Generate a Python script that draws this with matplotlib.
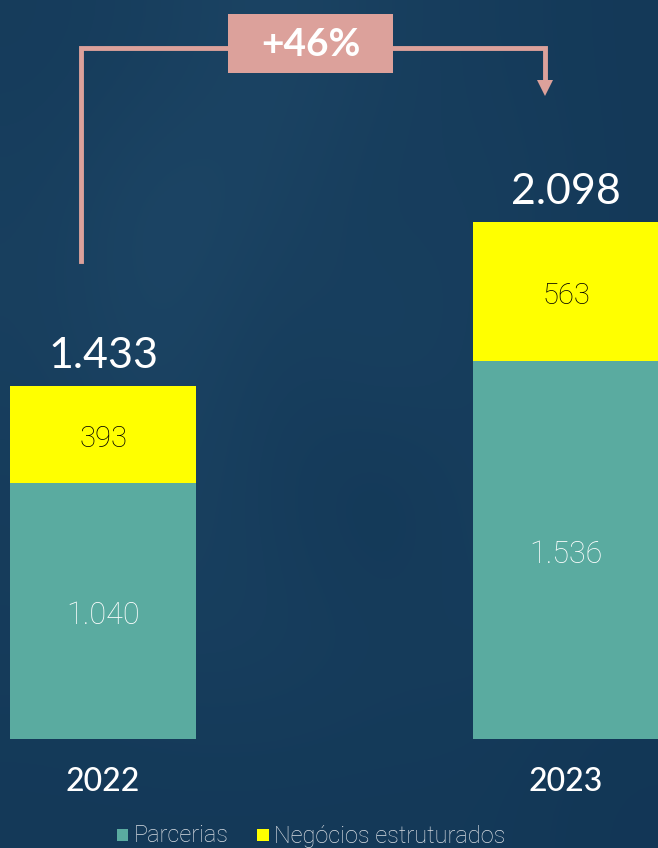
import numpy as np
import matplotlib as mpl
from matplotlib import pyplot as plt
from matplotlib.patches import Rectangle, Polygon

years = ['2022', '2023']
parcerias = [1040, 1536]
negocios = [393, 563]
totais = [1433, 2098]
growth_label = '+46%'
legend_labels = ['Parcerias', 'Negócios estruturados']

teal = '#5aaba0'
yellow = '#ffff00'
pink = '#dca19b'
W, H = 658, 848

plt.rcParams['font.family'] = ['Lato', 'DejaVu Sans']
thin = ['Roboto', 'DejaVu Sans']

fig = plt.figure(figsize=(W / 100, H / 100), dpi=100)

# background: dark blue, blurred photo look
bg = fig.add_axes([0, 0, 1, 1])
bg.set_axis_off()
shade = np.array([
    [0.11, 0.12, 0.14, 0.12, 0.11, 0.10],
    [0.12, 0.15, 0.13, 0.11, 0.12, 0.10],
    [0.12, 0.14, 0.11, 0.13, 0.11, 0.10],
    [0.11, 0.13, 0.11, 0.09, 0.12, 0.11],
    [0.11, 0.12, 0.12, 0.11, 0.11, 0.10],
    [0.10, 0.10, 0.10, 0.10, 0.10, 0.09],
])
cmap = mpl.colors.LinearSegmentedColormap.from_list('bg', ['#0e3150', '#204a6a'])
bg.imshow(shade, cmap=cmap, vmin=0.07, vmax=0.16, aspect='auto',
          interpolation='bicubic', extent=[0, 1, 0, 1])
bg.set_xlim(0, 1)
bg.set_ylim(0, 1)

ax = fig.add_axes([0, 0, 1, 1])
ax.patch.set_alpha(0)
ax.set_axis_off()
x = np.arange(len(years))
width = 0.4017
ax.bar(x, parcerias, width=width, color=teal)
ax.bar(x, negocios, width=width, bottom=parcerias, color=yellow)
ax.set_xlim(-0.2225, 1.1987)
ax.set_ylim(-442.5, 3000)

for i in x:
    ax.text(i, parcerias[i] / 2 - 20, f'{parcerias[i] / 1000:.3f}', ha='center', va='center',
            color='white', fontsize=22, family=thin, fontweight='light')
    ax.text(i, parcerias[i] + negocios[i] / 2 - 20, f'{negocios[i]}', ha='center', va='center',
            color='black', fontsize=21, family=thin, fontweight='light')
    ax.text(i, totais[i] + 122, f'{totais[i] / 1000:.3f}', ha='center', va='center',
            color='white', fontsize=31)
    ax.text(i, -175, years[i], ha='center', va='center',
            color='white', fontsize=23, fontweight='medium')

def px(xp, yp):
    return xp / W, 1 - yp / H

# growth arrow
xs, ys = zip(*[px(81, 261), px(81, 48), px(545, 48), px(545, 82)])
fig.add_artist(plt.Line2D(xs, ys, color=pink, lw=3.5, solid_joinstyle='miter'))
fig.add_artist(Polygon([px(537, 80), px(553, 80), px(545, 96)], closed=True,
                       facecolor=pink, edgecolor='none'))
x0, y0 = px(228, 73)
fig.add_artist(Rectangle((x0, y0), 165 / W, 59 / H, facecolor=pink, edgecolor='none'))
fig.text(*px(310.5, 44), growth_label, ha='center', va='center', color='white',
         fontsize=28, fontweight='bold')

# legend
fig.add_artist(Rectangle(px(117, 841), 11 / W, 12 / H, facecolor=teal, edgecolor='none'))
fig.text(*px(134, 836), legend_labels[0], ha='left', va='center', color='#d8dde3',
         fontsize=17, family=thin, fontweight='light')
fig.add_artist(Rectangle(px(257, 841), 12 / W, 12 / H, facecolor=yellow, edgecolor='none'))
fig.text(*px(274, 836), legend_labels[1], ha='left', va='center', color='#d8dde3',
         fontsize=17, family=thin, fontweight='light')

plt.savefig('out.png', dpi=100)
